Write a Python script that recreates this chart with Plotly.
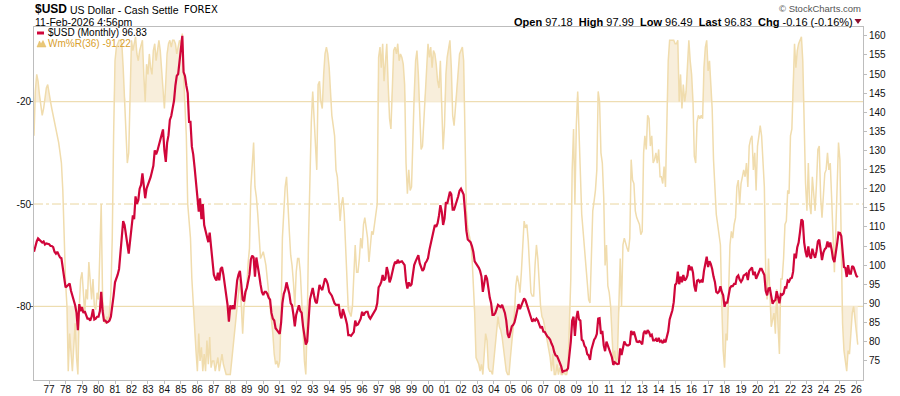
import pandas as pd
import plotly.graph_objects as go

# ---------------- DATA (monthly closes, Feb-1976 .. Feb-2026) ----------------
usd_1970s = [
    103.5, 105.0, 106.2, 107.0, 106.6, 106.3, 105.9, 106.2, 105.4, 105.7, 105.6,          # 1976 Feb-Dec
    105.5, 105.0, 105.0, 104.7, 103.5, 103.0, 103.5, 102.7, 102.0, 101.8, 99.5, 97.0,   # 1977
    94.2, 94.5, 94.8, 95.2, 93.3, 92.0, 91.0, 89.5, 87.5, 83.0, 89.8, 88.0,             # 1978
    89.0, 87.5, 88.0, 86.8, 86.0, 86.0, 85.5, 86.5, 88.5, 85.8, 86.0, 86.5,             # 1979
]
usd_1980s = [
    86.5, 88.0, 93.0, 88.0, 85.5, 85.5, 85.0, 85.2, 85.5, 86.5, 89.0, 92.0,             # 1980
    95.5, 96.5, 97.5, 99.0, 103.5, 107.0, 111.5, 110.5, 107.0, 105.5, 103.0, 107.0,     # 1981
    111.0, 113.0, 112.0, 118.0, 116.0, 117.0, 120.0, 121.0, 124.0, 121.0, 117.5, 120.0, # 1982
    121.0, 122.5, 123.0, 124.5, 126.0, 130.0, 129.0, 130.0, 131.5, 132.5, 134.0, 135.5, # 1983
    130.0, 127.0, 132.0, 134.0, 138.0, 139.0, 141.0, 143.0, 147.0, 149.5, 150.0, 153.0, # 1984
    156.0, 160.0, 150.5, 149.5, 147.0, 145.0, 137.5, 137.5, 131.0, 129.0, 125.5, 121.5, # 1985
    118.5, 114.0, 117.5, 112.0, 116.0, 110.5, 109.0, 107.0, 106.0, 108.5, 104.0, 100.5, # 1986
    97.5, 96.5, 96.0, 98.0, 96.0, 99.0, 99.5, 97.5, 95.0, 92.0, 89.6, 85.2,             # 1987
    89.5, 88.5, 89.5, 88.5, 93.5, 96.0, 97.5, 98.5, 95.0, 91.0, 90.5, 93.0,             # 1988
    94.0, 96.5, 97.5, 101.5, 102.5, 102.0, 97.0, 102.0, 99.0, 97.5, 95.0, 93.0,         # 1989
]
usd_1990s = [
    92.2, 93.0, 93.0, 92.5, 91.5, 91.0, 87.5, 86.0, 85.5, 83.5, 83.0, 82.5,             # 1990
    82.0, 85.0, 90.0, 92.5, 93.5, 95.5, 94.0, 92.5, 90.0, 89.5, 87.0, 84.0,             # 1991
    87.0, 88.5, 89.5, 88.0, 87.5, 84.0, 81.5, 79.2, 80.0, 85.0, 91.0, 92.5,             # 1992
    94.0, 92.0, 90.5, 90.0, 92.5, 94.8, 94.0, 93.5, 95.0, 96.5, 96.0, 95.0,             # 1993
    93.0, 92.5, 92.0, 91.0, 90.0, 89.6, 89.5, 89.6, 87.0, 86.1, 88.5, 87.5,             # 1994
    86.0, 84.5, 81.7, 81.7, 81.5, 82.0, 82.5, 85.5, 84.3, 84.5, 85.5, 86.0,             # 1995
    87.8, 86.8, 87.5, 87.8, 87.8, 86.5, 86.0, 86.7, 87.5, 87.8, 88.5, 90.0,             # 1996
    94.2, 94.8, 95.6, 97.4, 96.0, 96.5, 99.5, 98.0, 95.5, 96.5, 98.5, 99.7,             # 1997
    100.9, 100.4, 101.4, 100.7, 100.9, 101.0, 100.5, 100.0, 95.8, 93.9, 95.5, 94.5,     # 1998
    95.0, 98.5, 100.0, 101.0, 101.8, 102.6, 100.5, 99.2, 98.5, 99.0, 100.5, 101.0,      # 1999
]
usd_2000s = [
    101.8, 104.0, 105.5, 107.5, 109.5, 110.5, 110.0, 111.0, 113.0, 115.7, 114.0, 110.5, # 2000
    112.2, 116.5, 116.0, 118.0, 119.2, 118.5, 114.5, 114.5, 115.5, 117.0, 118.0, 119.5, # 2001
    120.0, 119.2, 118.5, 114.0, 109.0, 106.7, 106.3, 106.0, 105.0, 103.5, 101.0, 100.5, # 2002
    99.8, 99.3, 98.5, 97.0, 93.0, 95.0, 97.4, 96.5, 93.0, 91.5, 90.0, 87.0,             # 2003
    87.0, 87.5, 88.5, 89.6, 89.3, 89.0, 89.6, 88.5, 87.5, 85.5, 82.0, 81.0,             # 2004
    82.6, 84.0, 84.3, 85.0, 86.5, 88.5, 89.8, 88.5, 89.5, 90.5, 91.3, 90.8,             # 2005
    89.6, 88.5, 87.5, 86.0, 85.2, 85.8, 85.5, 86.0, 85.5, 84.5, 83.5, 84.0,             # 2006
    82.6, 82.5, 81.8, 81.3, 81.0, 80.5, 79.5, 78.7, 77.2, 76.4, 76.2, 75.5,             # 2007
    74.5, 73.5, 72.1, 72.3, 72.5, 72.5, 73.0, 76.5, 80.0, 85.5, 86.5, 81.5,             # 2008
    86.0, 88.0, 85.8, 85.5, 80.5, 80.2, 78.9, 78.4, 76.7, 76.4, 75.2, 77.9,             # 2009
]
usd_2010s = [
    79.5, 80.5, 81.0, 82.0, 86.0, 86.1, 82.0, 82.8, 79.0, 77.5, 80.0, 79.0,             # 2010
    77.8, 76.9, 75.9, 73.9, 74.6, 74.3, 74.1, 74.2, 78.2, 76.5, 78.5, 80.0,             # 2011
    79.3, 79.0, 79.0, 79.3, 82.8, 81.8, 82.6, 81.0, 80.0, 79.9, 80.1, 79.8,             # 2012
    79.3, 82.2, 82.8, 82.0, 83.0, 82.5, 81.5, 81.8, 80.3, 80.3, 80.7, 80.0,             # 2013
    81.0, 80.0, 80.2, 79.6, 80.3, 79.8, 81.5, 82.7, 85.8, 86.8, 88.2, 90.3,             # 2014
    94.8, 95.3, 98.3, 95.0, 97.0, 95.5, 97.4, 96.0, 96.4, 97.3, 100.0, 98.7,            # 2015
    99.6, 98.0, 94.6, 93.1, 95.9, 96.1, 95.6, 96.0, 95.5, 98.5, 101.0, 102.2,           # 2016
    99.5, 101.0, 100.3, 99.0, 97.0, 95.6, 93.0, 92.7, 93.1, 94.5, 93.0, 92.1,           # 2017
    89.1, 90.4, 90.0, 91.8, 94.0, 94.5, 94.5, 95.1, 95.1, 96.9, 97.3, 96.2,             # 2018
    95.6, 96.2, 97.3, 97.5, 97.8, 96.1, 98.5, 98.9, 99.4, 97.4, 98.3, 96.4,             # 2019
]
usd_2020s = [
    97.4, 98.1, 99.0, 99.0, 98.3, 97.4, 93.3, 92.1, 93.9, 94.0, 91.9, 89.9,             # 2020
    90.6, 90.9, 93.2, 91.3, 90.0, 92.4, 92.2, 92.6, 94.2, 94.1, 96.0, 95.7,             # 2021
    96.5, 96.7, 98.3, 103.0, 101.8, 104.7, 105.9, 108.7, 112.0, 111.5, 105.9, 103.5,    # 2022
    102.1, 104.9, 102.5, 101.7, 104.3, 102.9, 101.9, 103.6, 106.2, 106.7, 103.5, 101.3, # 2023
    103.3, 104.2, 104.5, 106.2, 104.7, 105.9, 104.1, 101.7, 100.8, 104.0, 105.7, 108.5, # 2024
    108.4, 107.6, 104.2, 99.5, 99.3, 96.9, 100.0, 97.8, 97.8, 99.8, 99.4, 98.3,         # 2025
    97.2, 96.83,                                                                        # 2026 Jan-Feb
]

# Williams %R (36)
wmr_1970s = [
    -30, -17, -12, -14, -18, -21, -24, -22, -19, -16, -15,
    -17, -20, -22, -24, -27, -29, -30, -32, -35, -38, -46, -63,
    -73, -80, -99, -88, -93, -99, -92, -85, -95, -100, -80, -72,
    -70, -78, -82, -75, -78, -67, -74, -78, -72, -80, -81, -76,
]
wmr_1980s = [
    -78, -65, -50, -78, -84, -85, -83, -84, -82, -76, -60, -30,
    -8, -4, -3, -2, -2, -3, -10, -18, -27, -38, -35, -20,
    -2, -5, -3, -1, -6, -8, -5, -3, -2, -12, -20, -9,
    -12, -6, -10, -12, -5, -3, -8, -5, -2, -5, -12, -18,
    -22, -14, -6, -3, -2, -4, -2, -2, -3, -6, -4, -2,
    -3, 0, -12, -20, -30, -50, -55, -60, -72, -80, -88, -93,
    -99, -88, -96, -92, -99, -94, -99, -90, -97, -89, -98, -96,
    -96, -99, -97, -95, -99, -96, -94, -97, -99, -100, -100, -100,
    -100, -96, -92, -88, -84, -80, -76, -72, -80, -88, -80, -76,
    -74, -67, -63, -45, -38, -32, -45, -48, -53, -60, -66, -65,
]
wmr_1990s = [
    -64, -66, -68, -72, -76, -79, -83, -88, -94, -97, -96, -98,
    -96, -82, -60, -52, -45, -42, -52, -58, -65, -68, -73, -80,
    -70, -66, -66, -70, -78, -87, -96, -100, -85, -60, -42, -26,
    -17, -26, -32, -40, -15, -14, -20, -22, -12, -6, -4, -6,
    -10, -18, -24, -27, -30, -40, -42, -48, -55, -50, -48, -53,
    -62, -75, -81, -82, -83, -80, -72, -62, -70, -70, -66, -60,
    -63, -56, -54, -57, -60, -67, -62, -58, -59, -56, -54, -50,
    -7, -4, -10, -3, -14, -8, -3, -15, -25, -28, -16, -5,
    -4, -6, -3, -8, -6, -7, -9, -15, -38, -47, -40, -46,
    -45, -28, -18, -8, -5, -12, -25, -34, -33, -25, -17, -10,
]
wmr_2000s = [
    -3, -7, -4, -10, -5, -6, -9, -14, -16, -8, -25, -34,
    -27, -12, -7, -4, -2, -10, -24, -27, -22, -15, -10, -6,
    -5, -4, -8, -27, -52, -57, -59, -61, -65, -72, -82, -95,
    -96, -97, -99, -97, -100, -92, -88, -90, -98, -99, -99, -100,
    -96, -91, -88, -83, -86, -87, -89, -93, -96, -99, -100, -100,
    -95, -91, -86, -82, -74, -71, -73, -76, -70, -63, -55, -57,
    -56, -61, -70, -76, -77, -77, -68, -62, -66, -73, -80, -83,
    -84, -86, -88, -90, -93, -95, -99, -94, -100, -100, -97, -100,
    -98, -100, -100, -99, -100, -100, -98, -85, -72, -40, -28, -50,
    -27, -17, -30, -43, -53, -58, -64, -68, -73, -78, -79, -62,
]
wmr_2010s = [
    -52, -49, -46, -40, -17, -20, -35, -38, -48, -68, -62, -74,
    -76, -80, -86, -96, -93, -97, -95, -82, -66, -80, -62, -60,
    -62, -63, -64, -60, -37, -43, -44, -52, -54, -55, -56, -59,
    -58, -35, -30, -34, -24, -25, -33, -30, -38, -37, -35, -38,
    -34, -42, -42, -44, -39, -45, -30, -8, -2, -2, -2, -2,
    -3, -3, -2, -20, -12, -22, -15, -20, -17, -10, -2, -8,
    -12, -20, -36, -38, -26, -24, -25, -24, -25, -10, -4, -2,
    -11, -8, -15, -22, -37, -48, -53, -56, -60, -62, -80, -93,
    -98, -88, -90, -78, -62, -58, -60, -56, -54, -45, -43, -50,
    -44, -42, -40, -42, -38, -45, -33, -31, -30, -40, -35, -46,
]
wmr_2020s = [
    -33, -30, -27, -30, -37, -45, -70, -78, -66, -74, -86, -84,
    -82, -88, -75, -86, -94, -72, -72, -66, -56, -55, -46, -47,
    -30, -28, -12, -3, -10, -5, -3, -2, -1, -8, -32, -44,
    -52, -38, -50, -53, -42, -48, -52, -44, -34, -33, -48, -54,
    -46, -41, -40, -35, -40, -38, -48, -62, -70, -58, -45, -32,
    -37, -70, -85, -93, -96, -99, -93, -94, -88, -82, -80, -84,
    -88, -91.22,
]

first_month = "1976-02-01"
year_ticks = list(range(1977, 2027))
year_labels = [f"{y % 100:02d}" for y in year_ticks]
wmr_ticks = [-20, -50, -80]
price_ticks = list(range(75, 165, 5))

# ---------------- BUILD ----------------
usd = usd_1970s + usd_1980s + usd_1990s + usd_2000s + usd_2010s + usd_2020s
wmr = wmr_1970s + wmr_1980s + wmr_1990s + wmr_2000s + wmr_2010s + wmr_2020s
dates = pd.date_range(first_month, periods=len(usd), freq="MS")
wdates = pd.date_range(first_month, periods=len(wmr), freq="MS")

W, H = 900, 396
L, R, T, B = 34, 863, 27, 380   # plot area in pixels


def px(x):
    return (x - L) / (R - L)


def py(y):
    return (B - y) / (B - T)


RED = "#d0063a"
TAN_LINE = "#f0dcad"
TAN_FILL = "#f8eedb"
REF = "#ead6a0"
GOLD = "#d9a02c"
AXIS = "#bdbdbd"
FONT = "Liberation Sans, Arial, sans-serif"

fig = go.Figure()

upper = [max(v, -20) for v in wmr]
lower = [min(v, -80) for v in wmr]
fig.add_trace(go.Scatter(x=wdates, y=[-20] * len(wmr), mode="lines",
                         line=dict(width=0, color=TAN_FILL), hoverinfo="skip"))
fig.add_trace(go.Scatter(x=wdates, y=upper, mode="lines", fill="tonexty",
                         fillcolor=TAN_FILL, line=dict(width=0), hoverinfo="skip"))
fig.add_trace(go.Scatter(x=wdates, y=[-80] * len(wmr), mode="lines",
                         line=dict(width=0, color=TAN_FILL), hoverinfo="skip"))
fig.add_trace(go.Scatter(x=wdates, y=lower, mode="lines", fill="tonexty",
                         fillcolor=TAN_FILL, line=dict(width=0), hoverinfo="skip"))
fig.add_trace(go.Scatter(x=wdates, y=wmr, mode="lines", name="Wm%R(36)",
                         line=dict(color=TAN_LINE, width=1.5)))
fig.add_trace(go.Scatter(x=dates, y=usd, mode="lines", name="$USD (Monthly)",
                         line=dict(color=RED, width=2.2), yaxis="y2"))

shapes = []
for lvl, dash in [(-20, "solid"), (-50, "dashdot"), (-80, "solid")]:
    shapes.append(dict(type="line", xref="paper", x0=0, x1=1, yref="y", y0=lvl, y1=lvl,
                       line=dict(color=REF, width=1, dash=dash), layer="below"))
# legend markers
shapes.append(dict(type="line", xref="paper", yref="paper", x0=px(37), x1=px(44),
                   y0=py(33), y1=py(33), line=dict(color=RED, width=3)))
mountain = "M {:.5f},{:.5f} L {:.5f},{:.5f} L {:.5f},{:.5f} L {:.5f},{:.5f} L {:.5f},{:.5f} Z".format(
    px(37), py(47), px(39.5), py(41), px(41), py(44), px(43), py(40.5), px(46), py(47))
shapes.append(dict(type="path", xref="paper", yref="paper", path=mountain,
                   fillcolor="#e9c878", line=dict(color="#e2b860", width=0.5)))
# down triangle in header
tri = "M {:.5f},{:.5f} L {:.5f},{:.5f} L {:.5f},{:.5f} Z".format(
    px(854.5), py(19), px(861.5), py(19), px(858), py(24))
shapes.append(dict(type="path", xref="paper", yref="paper", path=tri,
                   fillcolor="#8c0f2e", line=dict(width=0)))

ann = []


def text(x, y, s, size=11, color="#000", anchor="left", family=FONT):
    ann.append(dict(xref="paper", yref="paper", x=px(x), y=py(y), text=s, showarrow=False,
                    xanchor=anchor, yanchor="middle", borderpad=0,
                    font=dict(size=size, color=color, family=family)))


text(34, 9, "<b>$USD</b>", size=12)
text(68.5, 9.5, "US Dollar - Cash Settle", size=10.5)
text(183, 10, "FOREX", size=10, family="DejaVu Sans, Verdana, sans-serif")
text(34, 22, "11-Feb-2026 4:56pm", size=10.5)
text(46.5, 33, "$USD (Monthly) 96.83", size=10)
text(46.5, 44, "Wm%R(36) -91.22", size=10, color=GOLD)
text(862, 9, "© StockCharts.com", size=9.5, color="#555", anchor="right")
nb = "&nbsp;"
hdr = (f"<b>Open</b>{nb}97.18{nb}{nb}<b>High</b>{nb}97.99{nb}{nb}<b>Low</b>{nb}96.49"
       f"{nb}{nb}<b>Last</b>{nb}96.83{nb}{nb}<b>Chg</b>{nb}-0.16{nb}(-0.16%)")
text(853.5, 22, hdr, size=11, anchor="right")

fig.update_layout(
    width=W, height=H,
    margin=dict(l=L, r=W - R, t=T, b=H - B, pad=0, autoexpand=False),
    paper_bgcolor="white", plot_bgcolor="white",
    showlegend=False,
    font=dict(family=FONT, size=10, color="#111"),
    shapes=shapes, annotations=ann,
    xaxis=dict(type="date", range=["1976-02-01", "2026-05-28"], automargin=False,
               tickvals=[f"{y}-01-01" for y in year_ticks], ticktext=year_labels,
               showline=True, mirror=True, linecolor=AXIS, linewidth=1,
               ticks="outside", ticklen=3, tickcolor=AXIS, ticklabelstandoff=-3,
               showgrid=False, zeroline=False, tickfont=dict(size=10, color="#111")),
    yaxis=dict(range=[-101.6, 1.9], tickvals=wmr_ticks, ticktext=[str(v) for v in wmr_ticks],
               side="left", showline=True, linecolor=AXIS, ticks="outside", ticklen=3,
               tickcolor="#666", showgrid=False, zeroline=False, automargin=False,
               ticklabelstandoff=-3, tickfont=dict(size=10, color="#111")),
    yaxis2=dict(range=[69.95, 162.3], tickvals=price_ticks, overlaying="y", side="right",
                showline=True, linecolor=AXIS, ticks="outside", ticklen=3, tickcolor=AXIS,
                showgrid=False, zeroline=False, automargin=False,
                tickfont=dict(size=10, color="#111")),
)

# the browser's default 8px body margin would shift the whole figure; remove it
fig.write_html(
    "out.html",
    config={"displayModeBar": False},
    post_script="document.body.style.margin='0px';document.body.style.overflow='hidden';",
)
